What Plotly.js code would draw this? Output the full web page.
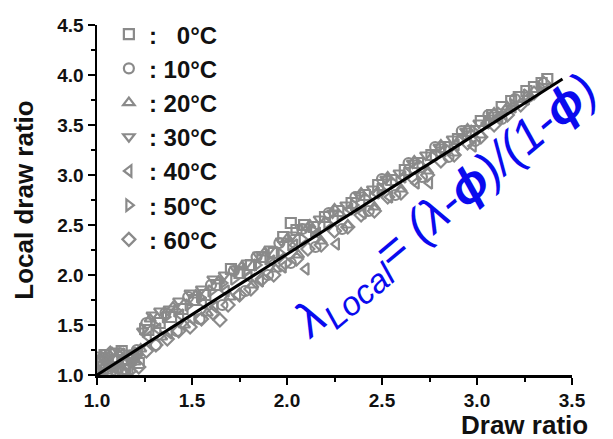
<!DOCTYPE html>
<html>
<head>
<meta charset="utf-8">
<script src="https://cdn.plot.ly/plotly-3.0.1.min.js"></script>
<style>html,body{margin:0;padding:0;background:#fff;}#chart{width:613px;height:439px;}</style>
</head>
<body>
<div id="chart"></div>
<script>
// ---- data ----
var seriesNames = ["0°C", "10°C", "20°C", "30°C", "40°C", "50°C", "60°C"];

var x0C = [1.01,1.04,1.07,1.10,1.13,1.16,1.19,1.22,1.27,1.33,1.39,1.45,1.51,1.57,1.63,1.705,1.75,1.81,1.87,1.93,1.98,2.02,2.05,2.09,2.14,2.20,2.27,2.34,2.41,2.48,2.55,2.62,2.69,2.76,2.83,2.90,2.96,3.02,3.08,3.13,3.18,3.22,3.26,3.30,3.34,3.37];
var y0C = [1.08,1.20,1.02,1.15,1.24,1.06,1.18,1.12,1.45,1.52,1.58,1.66,1.75,1.80,1.90,2.06,2.02,2.10,2.18,2.22,2.38,2.52,2.45,2.50,2.48,2.58,2.64,2.72,2.80,2.90,2.95,3.05,3.12,3.20,3.28,3.36,3.44,3.54,3.60,3.68,3.74,3.78,3.84,3.88,3.92,3.96];

var x10C = [1.00,1.03,1.06,1.09,1.12,1.15,1.18,1.21,1.26,1.31,1.36,1.42,1.48,1.54,1.60,1.66,1.72,1.78,1.84,1.90,1.96,2.02,2.08,2.15,2.22,2.29,2.36,2.43,2.50,2.57,2.64,2.71,2.78,2.85,2.92,2.99,3.06,3.13,3.20,3.27];
var y10C = [1.12,1.02,1.18,1.08,1.22,1.05,1.15,1.25,1.52,1.30,1.62,1.44,1.78,1.56,1.90,1.70,2.04,1.84,2.18,2.00,2.32,2.12,2.46,2.28,2.62,2.46,2.78,2.64,2.96,2.80,3.12,2.98,3.28,3.18,3.44,3.34,3.60,3.56,3.76,3.78];

var x20C = [1.02,1.05,1.08,1.11,1.14,1.17,1.20,1.23,1.28,1.34,1.40,1.46,1.52,1.58,1.64,1.70,1.76,1.82,1.88,1.94,2.00,2.06,2.12,2.18,2.25,2.32,2.39,2.46,2.53,2.60,2.67,2.74,2.81,2.88,2.95,3.02,3.09,3.16];
var y20C = [1.16,1.04,1.22,1.10,1.02,1.19,1.13,1.26,1.56,1.38,1.68,1.50,1.80,1.62,1.94,1.78,2.08,1.90,2.22,2.06,2.36,2.20,2.50,2.34,2.66,2.50,2.82,2.68,2.98,2.86,3.14,3.04,3.30,3.22,3.46,3.40,3.62,3.68];

var x30C = [1.00,1.03,1.06,1.09,1.12,1.15,1.18,1.21,1.24,1.29,1.33,1.38,1.43,1.49,1.55,1.61,1.67,1.73,1.79,1.85,1.91,1.97,2.03,2.10,2.17,2.24,2.31,2.38,2.45,2.52,2.59,2.66,2.73,2.80,2.87,2.94,3.01,3.08];
var y30C = [1.20,1.10,1.16,1.24,1.06,1.22,1.14,1.18,1.44,1.60,1.64,1.66,1.74,1.82,1.86,1.96,2.00,2.06,2.12,2.20,2.26,2.34,2.40,2.48,2.56,2.62,2.70,2.80,2.86,2.96,3.02,3.12,3.20,3.28,3.36,3.44,3.52,3.60];

var x40C = [1.01,1.04,1.07,1.10,1.13,1.16,1.19,1.22,1.27,1.32,1.38,1.44,1.50,1.56,1.62,1.68,1.74,1.80,1.86,1.92,1.98,2.04,2.10,2.16,2.26,2.33,2.40,2.47,2.54,2.61,2.68,2.75,2.82,2.89,2.98,3.05,3.12,3.19,3.26];
var y40C = [1.04,1.17,1.10,1.02,1.21,1.08,1.15,1.24,1.38,1.46,1.42,1.60,1.56,1.72,1.68,1.84,1.80,1.98,1.94,2.14,2.08,2.30,2.06,2.42,2.31,2.66,2.62,2.82,2.78,2.98,2.92,2.92,3.24,3.30,3.29,3.52,3.58,3.68,3.76];

var x50C = [1.00,1.03,1.06,1.09,1.12,1.15,1.18,1.21,1.24,1.30,1.36,1.42,1.48,1.54,1.60,1.66,1.72,1.78,1.84,1.90,1.96,2.02,2.08,2.14,2.21,2.28,2.35,2.42,2.49,2.56,2.63,2.70,2.77,2.84,2.91,2.98,3.05,3.12,3.19,3.26,3.33];
var y50C = [1.06,1.18,1.12,1.00,1.20,1.14,1.04,1.22,1.46,1.50,1.58,1.64,1.70,1.78,1.84,1.92,1.96,2.04,2.10,2.16,2.22,2.30,2.36,2.44,2.52,2.60,2.70,2.76,2.86,2.92,3.02,3.10,3.18,3.26,3.34,3.44,3.52,3.62,3.70,3.80,3.88];

var x60C = [1.01,1.04,1.07,1.10,1.13,1.16,1.19,1.22,1.26,1.31,1.37,1.43,1.49,1.55,1.61,1.647,1.69,1.75,1.81,1.87,1.93,1.99,2.05,2.11,2.18,2.25,2.32,2.39,2.46,2.53,2.60,2.67,2.74,2.81,2.88,2.95,3.02,3.09,3.16,3.23,3.30,3.35];
var y60C = [1.14,1.06,1.22,1.16,1.04,1.12,1.20,1.08,1.24,1.30,1.36,1.44,1.48,1.56,1.62,1.55,1.70,1.80,1.86,1.96,2.00,2.12,2.16,2.26,2.30,2.44,2.48,2.60,2.64,2.78,2.82,2.96,3.00,3.14,3.20,3.32,3.38,3.50,3.60,3.70,3.82,3.92];

// fitted line lambda_local = (lambda - phi)/(1 - phi)
var fitX = [1.0, 3.45];
var fitY = [1.0, 3.96];

var xTickVals = [1.0, 1.5, 2.0, 2.5, 3.0, 3.5];
var yTickVals = [1.0, 1.5, 2.0, 2.5, 3.0, 3.5, 4.0, 4.5];

// ---- build ----
var xs = [x0C, x10C, x20C, x30C, x40C, x50C, x60C];
var ys = [y0C, y10C, y20C, y30C, y40C, y50C, y60C];
var symbols = ["square-open", "circle-open", "triangle-up-open", "triangle-down-open",
               "triangle-left-open", "triangle-right-open", "diamond-open"];
var gray = "#8a8a8a";
var FONT = "Liberation Sans, Arial, sans-serif";

var traces = [];
for (var i = 0; i < seriesNames.length; i++) {
  var label = seriesNames[i].length < 4 ? ":\u00a0\u00a0\u00a0" + seriesNames[i] : ":\u00a0" + seriesNames[i];
  traces.push({
    type: "scatter", mode: "markers",
    x: xs[i], y: ys[i],
    name: "<b>" + label + "</b>",
    legendgroup: "g" + i,
    marker: { symbol: symbols[i], size: 10, color: gray, line: { color: gray, width: 2.2 } }
  });
}
traces.push({
  type: "scatter", mode: "lines", x: fitX, y: fitY, showlegend: false,
  line: { color: "#000", width: 3 }
});

var axisCommon = {
  showline: true, linecolor: "#000", linewidth: 2.5,
  ticks: "outside", ticklen: 7, tickwidth: 2, tickcolor: "#000",
  showgrid: false, zeroline: false, tickformat: ".1f",
  tickfont: { family: FONT, size: 19, color: "#111", weight: "bold" },
  minor: { dtick: 0.25, ticks: "outside", ticklen: 4, tickwidth: 2, tickcolor: "#000", showgrid: false }
};

var layout = {
  width: 613, height: 439, autosize: false,
  margin: { l: 97, r: 41, t: 23, b: 64 },
  paper_bgcolor: "#fff", plot_bgcolor: "#fff",
  showlegend: true,
  legend: {
    x: 0.025, y: 1.037, xanchor: "left", yanchor: "top",
    bgcolor: "rgba(0,0,0,0)", tracegroupgap: 0, maxheight: 420,
    font: { family: FONT, size: 24, color: "#111" }
  },
  xaxis: Object.assign({}, axisCommon, { range: [1, 3.5], tickvals: xTickVals }),
  yaxis: Object.assign({}, axisCommon, {
    range: [1, 4.5], tickvals: yTickVals,
    title: { text: "<b>Local draw ratio</b>", font: { family: FONT, size: 26, color: "#111" }, standoff: 16 }
  }),
  annotations: [
    {
      xref: "paper", yref: "paper", x: 1.038, y: -0.142, xanchor: "right", yanchor: "middle",
      text: "<b>Draw ratio</b>", showarrow: false,
      font: { family: FONT, size: 26, color: "#111" }
    },
    {
      xref: "paper", yref: "paper", x: 0.735, y: 0.478, xanchor: "center", yanchor: "middle",
      text: "<i>λ<sub>Local</sub>= (λ-<b>ϕ</b>)/(1-<b>ϕ</b>)</i>", showarrow: false, textangle: -40,
      font: { family: FONT, size: 48, color: "#0a0aee" }
    }
  ]
};

Plotly.newPlot("chart", traces, layout, { staticPlot: true, displayModeBar: false });
</script>
</body>
</html>
